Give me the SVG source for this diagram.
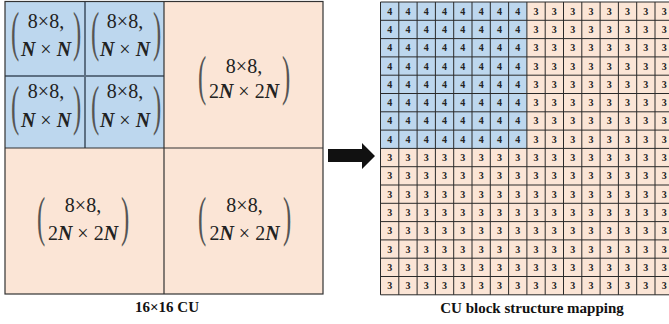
<svg xmlns="http://www.w3.org/2000/svg" width="669" height="324" viewBox="0 0 669 324">
<style>
.m{font-family:"Liberation Serif","Times New Roman",serif;font-size:20px;fill:#222;text-anchor:middle}
.v{font-style:italic;font-weight:bold}
.p{font-family:"Liberation Serif","Times New Roman",serif;font-size:55px;fill:#555;text-anchor:middle}
.g{font-family:"Liberation Serif","Times New Roman",serif;font-size:10px;font-weight:bold;fill:#222;text-anchor:middle}
.cap{font-family:"Liberation Serif","Times New Roman",serif;font-size:15px;font-weight:bold;fill:#111;text-anchor:middle}
.blue{fill:#BDD7EE}
.pink{fill:#FBE5D6}
.thin{stroke:#333;stroke-width:1.2;fill:none}
.bdiv{stroke:#5d7083;stroke-width:2;fill:none}
.grid{stroke:#2a2a2a;stroke-width:1;fill:none}
</style>

<g id="cu16">
  <rect class="pink" x="5" y="1.5" width="318" height="292.5"/>
  <rect class="blue" x="5" y="1.5" width="159" height="146.5"/>
  <path class="bdiv" d="M85 1.5V148M5 76H164"/>
  <path class="thin" d="M164 1.5V294M5 148H323"/>
  <rect class="thin" x="5" y="1.5" width="318" height="292.5"/>

  <g id="q-tl">
    <text class="p" transform="translate(15,50) scale(0.45,1)">(</text>
    <text class="p" transform="translate(77,50) scale(0.45,1)">)</text>
    <text class="m" x="46" y="28">8×8,</text>
    <text class="m" x="46" y="56"><tspan class="v">N</tspan> × <tspan class="v">N</tspan></text>
  </g>
  <g id="q-tr-blue">
    <text class="p" transform="translate(95,50) scale(0.45,1)">(</text>
    <text class="p" transform="translate(157,50) scale(0.45,1)">)</text>
    <text class="m" x="125" y="28">8×8,</text>
    <text class="m" x="125" y="56"><tspan class="v">N</tspan> × <tspan class="v">N</tspan></text>
  </g>
  <g id="q-bl-blue">
    <text class="p" transform="translate(15,123.5) scale(0.45,1)">(</text>
    <text class="p" transform="translate(77,123.5) scale(0.45,1)">)</text>
    <text class="m" x="46" y="98">8×8,</text>
    <text class="m" x="46" y="127"><tspan class="v">N</tspan> × <tspan class="v">N</tspan></text>
  </g>
  <g id="q-br-blue">
    <text class="p" transform="translate(95,123.5) scale(0.45,1)">(</text>
    <text class="p" transform="translate(157,123.5) scale(0.45,1)">)</text>
    <text class="m" x="125" y="98">8×8,</text>
    <text class="m" x="125" y="127"><tspan class="v">N</tspan> × <tspan class="v">N</tspan></text>
  </g>
  <g id="q-tr">
    <text class="p" transform="translate(202,94) scale(0.45,1)">(</text>
    <text class="p" transform="translate(286,94) scale(0.45,1)">)</text>
    <text class="m" x="244" y="73">8×8,</text>
    <text class="m" x="244" y="98">2<tspan class="v">N</tspan> × 2<tspan class="v">N</tspan></text>
  </g>
  <g id="q-bl">
    <text class="p" transform="translate(41,235) scale(0.45,1)">(</text>
    <text class="p" transform="translate(125,235) scale(0.45,1)">)</text>
    <text class="m" x="83" y="212">8×8,</text>
    <text class="m" x="83" y="240">2<tspan class="v">N</tspan> × 2<tspan class="v">N</tspan></text>
  </g>
  <g id="q-br">
    <text class="p" transform="translate(202,235) scale(0.45,1)">(</text>
    <text class="p" transform="translate(287,235) scale(0.45,1)">)</text>
    <text class="m" x="244.5" y="212">8×8,</text>
    <text class="m" x="244.5" y="240">2<tspan class="v">N</tspan> × 2<tspan class="v">N</tspan></text>
  </g>
  <text class="cap" x="167" y="312">16×16 CU</text>
</g>

<g id="connectors">
  <polygon points="328,149 362,149 362,143 375,156 362,169 362,162 328,162" fill="#111"/>
</g>

<g id="mapping">
  <rect class="pink" x="380.5" y="2" width="292.8" height="292.8"/>
  <rect class="blue" x="380.5" y="2" width="146.4" height="146.4"/>
  <path class="grid" d="M380.5 2V294.8M398.8 2V294.8M417.1 2V294.8M435.4 2V294.8M453.7 2V294.8M472 2V294.8M490.3 2V294.8M508.6 2V294.8M526.9 2V294.8M545.2 2V294.8M563.5 2V294.8M581.8 2V294.8M600.1 2V294.8M618.4 2V294.8M636.7 2V294.8M655 2V294.8
  M380.5 2H673.3M380.5 20.3H673.3M380.5 38.6H673.3M380.5 56.9H673.3M380.5 75.2H673.3M380.5 93.5H673.3M380.5 111.8H673.3M380.5 130.1H673.3M380.5 148.4H673.3M380.5 166.7H673.3M380.5 185H673.3M380.5 203.3H673.3M380.5 221.6H673.3M380.5 239.9H673.3M380.5 258.2H673.3M380.5 276.5H673.3M380.5 294.8H673.3"/>
  <g class="g">
    <text x="389.65 407.95 426.25 444.55 462.85 481.15 499.45 517.75 536.05 554.35 572.65 590.95 609.25 627.55 645.85 664.15" y="14.6">4444444433333333</text>
    <text x="389.65 407.95 426.25 444.55 462.85 481.15 499.45 517.75 536.05 554.35 572.65 590.95 609.25 627.55 645.85 664.15" y="32.9">4444444433333333</text>
    <text x="389.65 407.95 426.25 444.55 462.85 481.15 499.45 517.75 536.05 554.35 572.65 590.95 609.25 627.55 645.85 664.15" y="51.2">4444444433333333</text>
    <text x="389.65 407.95 426.25 444.55 462.85 481.15 499.45 517.75 536.05 554.35 572.65 590.95 609.25 627.55 645.85 664.15" y="69.5">4444444433333333</text>
    <text x="389.65 407.95 426.25 444.55 462.85 481.15 499.45 517.75 536.05 554.35 572.65 590.95 609.25 627.55 645.85 664.15" y="87.8">4444444433333333</text>
    <text x="389.65 407.95 426.25 444.55 462.85 481.15 499.45 517.75 536.05 554.35 572.65 590.95 609.25 627.55 645.85 664.15" y="106.1">4444444433333333</text>
    <text x="389.65 407.95 426.25 444.55 462.85 481.15 499.45 517.75 536.05 554.35 572.65 590.95 609.25 627.55 645.85 664.15" y="124.4">4444444433333333</text>
    <text x="389.65 407.95 426.25 444.55 462.85 481.15 499.45 517.75 536.05 554.35 572.65 590.95 609.25 627.55 645.85 664.15" y="142.7">4444444433333333</text>
    <text x="389.65 407.95 426.25 444.55 462.85 481.15 499.45 517.75 536.05 554.35 572.65 590.95 609.25 627.55 645.85 664.15" y="161">3333333333333333</text>
    <text x="389.65 407.95 426.25 444.55 462.85 481.15 499.45 517.75 536.05 554.35 572.65 590.95 609.25 627.55 645.85 664.15" y="179.3">3333333333333333</text>
    <text x="389.65 407.95 426.25 444.55 462.85 481.15 499.45 517.75 536.05 554.35 572.65 590.95 609.25 627.55 645.85 664.15" y="197.6">3333333333333333</text>
    <text x="389.65 407.95 426.25 444.55 462.85 481.15 499.45 517.75 536.05 554.35 572.65 590.95 609.25 627.55 645.85 664.15" y="215.9">3333333333333333</text>
    <text x="389.65 407.95 426.25 444.55 462.85 481.15 499.45 517.75 536.05 554.35 572.65 590.95 609.25 627.55 645.85 664.15" y="234.2">3333333333333333</text>
    <text x="389.65 407.95 426.25 444.55 462.85 481.15 499.45 517.75 536.05 554.35 572.65 590.95 609.25 627.55 645.85 664.15" y="252.5">3333333333333333</text>
    <text x="389.65 407.95 426.25 444.55 462.85 481.15 499.45 517.75 536.05 554.35 572.65 590.95 609.25 627.55 645.85 664.15" y="270.8">3333333333333333</text>
    <text x="389.65 407.95 426.25 444.55 462.85 481.15 499.45 517.75 536.05 554.35 572.65 590.95 609.25 627.55 645.85 664.15" y="289.1">3333333333333333</text>
  </g>
  <text class="cap" x="532" y="313">CU block structure mapping</text>
</g>
</svg>
